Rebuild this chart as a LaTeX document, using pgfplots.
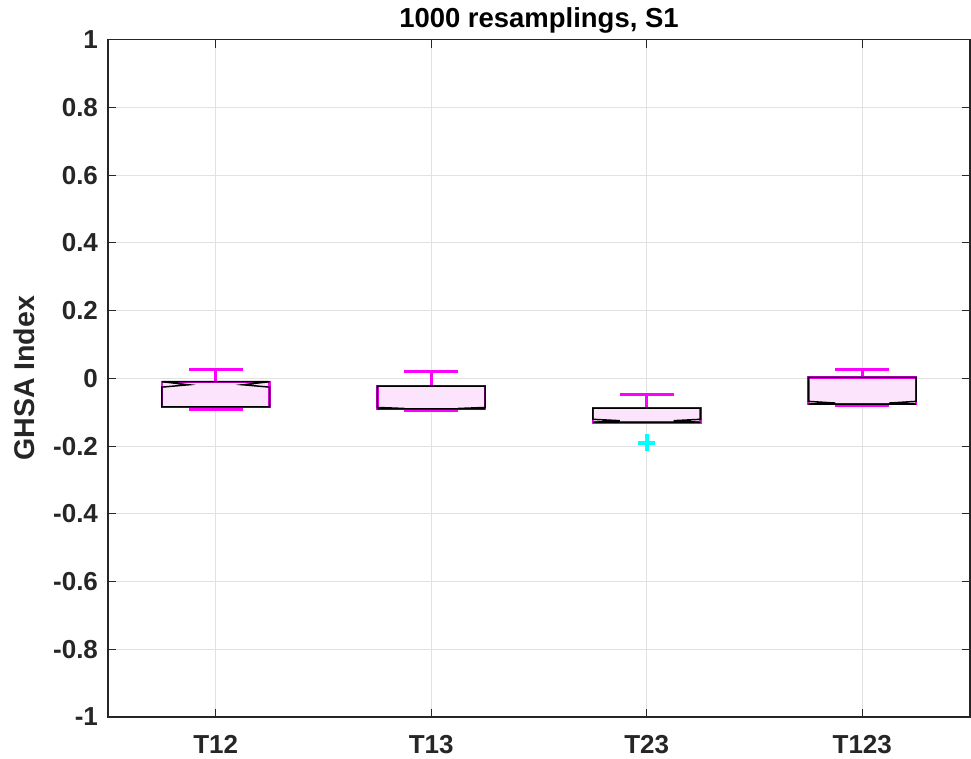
\documentclass[border=0pt]{standalone}
\usepackage{fontspec}
\setmainfont{Liberation Sans}
\usepackage{pgfplots}
\pgfplotsset{compat=1.18}
\definecolor{boxfill}{RGB}{252,228,252}
\definecolor{mag}{RGB}{255,0,255}
\definecolor{cyn}{RGB}{0,255,255}
\definecolor{axgray}{RGB}{38,38,38}
\definecolor{gridgray}{RGB}{226,226,226}
\begin{document}
\begin{tikzpicture}
\path[use as bounding box] (-81pt,-31.5pt) rectangle (647.25pt,537.75pt);
\begin{axis}[
  scale only axis, width=646.5pt, height=508pt,
  xmin=0.5, xmax=4.5, ymin=-1, ymax=1,
  xtick={1,2,3,4}, xticklabels={T12,T13,T23,T123},
  ytick={-1,-0.8,-0.6,-0.4,-0.2,0,0.2,0.4,0.6,0.8,1},
  yticklabels={-1,-0.8,-0.6,-0.4,-0.2,0,0.2,0.4,0.6,0.8,1},
  tick align=inside, major tick length=6pt,
  tick style={axgray, line width=0.8pt},
  axis line style={axgray, line width=0.8pt},
  grid=major, major grid style={gridgray, line width=0.8pt},
  tick label style={font=\fontsize{19.5}{20}\selectfont\bfseries, text=axgray},
  xticklabel style={yshift=-10pt},
  yticklabel style={xshift=-4pt},
  ylabel={GHSA Index},
  ylabel style={font=\fontsize{21.4}{22}\selectfont\bfseries, text=axgray, yshift=7pt},
  title={1000 resamplings, S1},
  title style={font=\fontsize{20.6}{21}\selectfont\bfseries, yshift=-5pt},
  /pgf/number format/assume math mode=true,
  clip=false,
]
% whiskers
\addplot[mag, line width=2.2pt] coordinates {(1,-0.010) (1,0.026)};
\addplot[mag, line width=2.2pt] coordinates {(0.875,0.026) (1.125,0.026)};
\addplot[mag, line width=2.2pt] coordinates {(0.875,-0.092) (1.125,-0.092)};
\addplot[mag, line width=2.2pt] coordinates {(2,-0.023) (2,0.020)};
\addplot[mag, line width=2.2pt] coordinates {(1.875,0.020) (2.125,0.020)};
\addplot[mag, line width=2.2pt] coordinates {(1.875,-0.096) (2.125,-0.096)};
\addplot[mag, line width=2.2pt] coordinates {(3,-0.088) (3,-0.049)};
\addplot[mag, line width=2.2pt] coordinates {(2.875,-0.049) (3.125,-0.049)};
\addplot[mag, line width=2.2pt] coordinates {(4,0.003) (4,0.025)};
\addplot[mag, line width=2.2pt] coordinates {(3.875,0.025) (4.125,0.025)};
\addplot[mag, line width=2.2pt] coordinates {(3.875,-0.080) (4.125,-0.080)};
% boxes
\addplot[mag, fill=boxfill, line width=1.8pt] coordinates {(0.75,-0.084) (1.25,-0.084) (1.25,-0.010) (0.75,-0.010)} -- cycle;
\addplot[mag, fill=boxfill, line width=1.8pt] coordinates {(1.75,-0.090) (2.25,-0.090) (2.25,-0.023) (1.75,-0.023)} -- cycle;
\addplot[mag, fill=boxfill, line width=1.8pt] coordinates {(2.75,-0.130) (3.25,-0.130) (3.25,-0.088) (2.75,-0.088)} -- cycle;
\addplot[mag, fill=boxfill, line width=1.8pt] coordinates {(3.75,-0.076) (4.25,-0.076) (4.25,0.003) (3.75,0.003)} -- cycle;
% notched outlines
\addplot[black, line width=1.1pt] coordinates {(0.75,-0.010) (0.875,-0.019) (0.75,-0.026) (0.75,-0.084) (1.25,-0.084) (1.25,-0.026) (1.125,-0.019) (1.25,-0.010)} -- cycle;
\addplot[black, line width=1.1pt] coordinates {(1.75,-0.023) (1.75,-0.086) (1.875,-0.089) (1.75,-0.090) (2.25,-0.090) (2.125,-0.089) (2.25,-0.086) (2.25,-0.023)} -- cycle;
\addplot[black, line width=1.1pt] coordinates {(2.75,-0.088) (2.75,-0.121) (2.875,-0.125) (2.75,-0.130) (3.25,-0.130) (3.125,-0.125) (3.25,-0.121) (3.25,-0.088)} -- cycle;
\addplot[black, line width=1.1pt] coordinates {(3.75,0.003) (3.75,-0.068) (3.875,-0.073) (3.75,-0.076) (4.25,-0.076) (4.125,-0.073) (4.25,-0.068) (4.25,0.003)} -- cycle;
% outlier
\addplot[only marks, mark=+, mark size=6.5pt, cyn, line width=3.2pt] coordinates {(3,-0.19)};
\end{axis}
\end{tikzpicture}
\end{document}
